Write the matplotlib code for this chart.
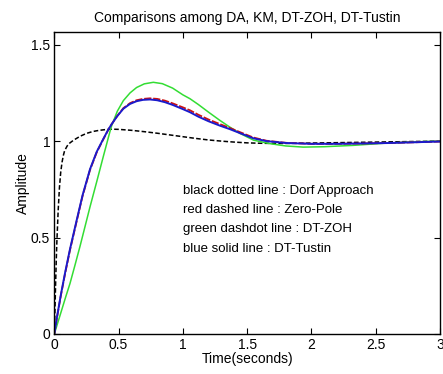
import matplotlib
matplotlib.use("Agg")
import matplotlib.pyplot as plt

plt.rcParams["font.family"] = ["Liberation Sans", "DejaVu Sans"]

# Step responses (time in seconds, amplitude)
t_dorf = [0, 0.005, 0.01, 0.015, 0.02, 0.03, 0.04, 0.05, 0.06, 0.07, 0.08, 0.1, 0.12, 0.15,
          0.2, 0.25, 0.3, 0.35, 0.4, 0.45, 0.5, 0.6, 0.7, 0.8, 0.9, 1.0, 1.1, 1.2, 1.3, 1.4,
          1.5, 1.6, 1.7, 1.8, 2.0, 2.2, 2.4, 2.6, 2.8, 3.0]
y_dorf = [0, 0.12, 0.26, 0.38, 0.48, 0.64, 0.76, 0.84, 0.89, 0.925, 0.95, 0.975, 0.99, 1.005,
          1.025, 1.04, 1.05, 1.056, 1.06, 1.062, 1.061, 1.056, 1.049, 1.041, 1.032, 1.023, 1.014,
          1.006, 1.0, 0.995, 0.991, 0.989, 0.988, 0.988, 0.99, 0.992, 0.994, 0.996, 0.998, 1.0]

t_tustin = [0, 0.02, 0.05, 0.083, 0.122, 0.174, 0.22, 0.278, 0.33, 0.38, 0.42, 0.446, 0.49,
            0.537, 0.589, 0.64, 0.69, 0.744, 0.8, 0.86, 0.92, 1.0, 1.055, 1.12, 1.2, 1.289,
            1.366, 1.45, 1.547, 1.65, 1.807, 2.0, 2.196, 2.4, 2.585, 2.8, 3.0]
y_tustin = [0, 0.085, 0.2, 0.315, 0.44, 0.59, 0.72, 0.855, 0.945, 1.01, 1.06, 1.088, 1.13,
            1.168, 1.193, 1.207, 1.214, 1.216, 1.212, 1.202, 1.188, 1.166, 1.15, 1.127, 1.103,
            1.08, 1.062, 1.04, 1.015, 1.0, 0.99, 0.986, 0.986, 0.988, 0.99, 0.994, 0.998]

t_zp = [0, 0.02, 0.05, 0.083, 0.122, 0.174, 0.22, 0.278, 0.33, 0.38, 0.42, 0.446, 0.49,
        0.537, 0.589, 0.64, 0.69, 0.744, 0.8, 0.86, 0.92, 1.0, 1.055, 1.12, 1.2, 1.289,
        1.366, 1.45, 1.547, 1.65, 1.807, 2.0, 2.196, 2.4, 2.585, 2.8, 3.0]
y_zp = [0, 0.082, 0.196, 0.31, 0.435, 0.585, 0.716, 0.851, 0.942, 1.008, 1.059, 1.088, 1.131,
        1.171, 1.197, 1.212, 1.219, 1.222, 1.219, 1.21, 1.196, 1.175, 1.16, 1.137, 1.112,
        1.088, 1.068, 1.045, 1.019, 1.002, 0.991, 0.986, 0.986, 0.988, 0.99, 0.994, 0.998]

t_zoh = [0, 0.03, 0.06, 0.09, 0.122, 0.16, 0.2, 0.24, 0.278, 0.33, 0.381, 0.433, 0.446, 0.49,
         0.537, 0.589, 0.64, 0.7, 0.77, 0.84, 0.92, 1.0, 1.055, 1.12, 1.2, 1.289, 1.36,
         1.444, 1.55, 1.677, 1.8, 1.936, 2.1, 2.325, 2.585, 2.8, 3.0]
y_zoh = [0, 0.065, 0.13, 0.195, 0.262, 0.355, 0.455, 0.56, 0.66, 0.79, 0.92, 1.05, 1.08, 1.155,
         1.21, 1.25, 1.278, 1.297, 1.305, 1.298, 1.275, 1.24, 1.22, 1.19, 1.15, 1.107, 1.075,
         1.04, 1.005, 0.987, 0.975, 0.969, 0.971, 0.978, 0.99, 0.996, 1.0]

legend_lines = ["black dotted line : Dorf Approach",
                "red dashed line : Zero-Pole",
                "green dashdot line : DT-ZOH",
                "blue solid line : DT-Tustin"]

fig = plt.figure(figsize=(4.43, 3.74), dpi=100)
ax = fig.add_axes([0.1226, 0.107, 0.8706, 0.807])

ax.plot(t_dorf, y_dorf, color="black", lw=1.1, ls=(0, (3, 1.5)))
ax.plot(t_zoh, y_zoh, color="#33dd33", lw=1.1)
ax.plot(t_zp, y_zp, color="#cc1111", lw=1.3, ls=(0, (4, 1)))
ax.plot(t_tustin, y_tustin, color="#1a1acc", lw=1.4)

for i, s in enumerate(legend_lines):
    ax.text(1.0, 0.741 - 0.0995 * i, s, fontsize=9.5, va="center", ha="left")

ax.set_xlim(0, 3)
ax.set_ylim(0, 1.565)
ax.set_xticks([0, 0.5, 1, 1.5, 2, 2.5, 3])
ax.set_xticklabels(["0", "0.5", "1", "1.5", "2", "2.5", "3"])
ax.set_yticks([0, 0.5, 1, 1.5])
ax.set_yticklabels(["0", "0.5", "1", "1.5"])
ax.tick_params(direction="in", length=4, top=True, right=True, labelsize=10, pad=3)
for sp in ax.spines.values():
    sp.set_linewidth(1.0)

ax.set_title("Comparisons among DA, KM, DT-ZOH, DT-Tustin", fontsize=10, pad=7)
ax.set_xlabel("Time(seconds)", fontsize=10, labelpad=0)
ax.set_ylabel("Amplitude", fontsize=10, labelpad=1)

fig.savefig("out.png", dpi=100)
